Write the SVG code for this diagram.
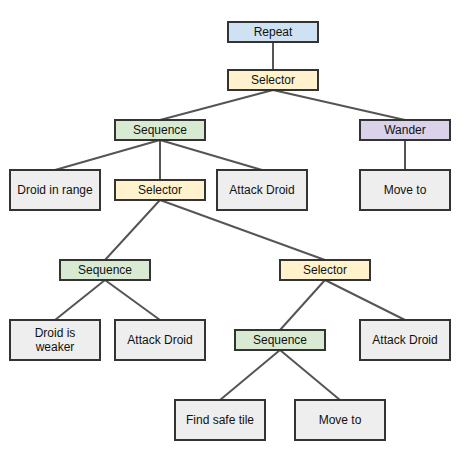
<svg xmlns="http://www.w3.org/2000/svg" width="470" height="460" viewBox="0 0 470 460">
<style>
.n rect{stroke:#333;stroke-width:2}
.n text{font-family:"Liberation Sans",Arial,sans-serif;font-size:12px;fill:#111;text-anchor:middle}
.blue{fill:#cfe2f3}.yel{fill:#fff2cc}.grn{fill:#d9ead3}.pur{fill:#d9d2e9}.gry{fill:#eeeeee}
#edges line{stroke:#555;stroke-width:2}
</style>
<rect width="470" height="460" fill="#fff"/>
<g id="edges">
<line x1="273" y1="42" x2="273" y2="70"/>
<line x1="273" y1="90" x2="160" y2="120"/>
<line x1="273" y1="90" x2="405" y2="120"/>
<line x1="160" y1="140" x2="55" y2="170"/>
<line x1="160" y1="140" x2="160" y2="180"/>
<line x1="160" y1="140" x2="262" y2="170"/>
<line x1="405" y1="140" x2="405" y2="170"/>
<line x1="160" y1="200" x2="105" y2="260"/>
<line x1="160" y1="200" x2="325" y2="260"/>
<line x1="105" y1="280" x2="55" y2="320"/>
<line x1="105" y1="280" x2="160" y2="320"/>
<line x1="325" y1="280" x2="280" y2="330"/>
<line x1="325" y1="280" x2="405" y2="320"/>
<line x1="280" y1="350" x2="220" y2="400"/>
<line x1="280" y1="350" x2="340" y2="400"/>
</g>
<g id="repeat" class="n"><rect class="blue" x="228" y="22" width="90" height="20"/><text x="273" y="36">Repeat</text></g>
<g id="selector1" class="n"><rect class="yel" x="228" y="70" width="90" height="20"/><text x="273" y="84">Selector</text></g>
<g id="sequence1" class="n"><rect class="grn" x="115" y="120" width="90" height="20"/><text x="160" y="134">Sequence</text></g>
<g id="wander" class="n"><rect class="pur" x="360" y="120" width="90" height="20"/><text x="405" y="134">Wander</text></g>
<g id="droidInRange" class="n"><rect class="gry" x="10" y="170" width="90" height="40"/><text x="55" y="194">Droid in range</text></g>
<g id="selector2" class="n"><rect class="yel" x="115" y="180" width="90" height="20"/><text x="160" y="194">Selector</text></g>
<g id="attack1" class="n"><rect class="gry" x="217" y="170" width="90" height="40"/><text x="262" y="194">Attack Droid</text></g>
<g id="moveTo1" class="n"><rect class="gry" x="360" y="170" width="90" height="40"/><text x="405" y="194">Move to</text></g>
<g id="sequence2" class="n"><rect class="grn" x="60" y="260" width="90" height="20"/><text x="105" y="274">Sequence</text></g>
<g id="selector3" class="n"><rect class="yel" x="280" y="260" width="90" height="20"/><text x="325" y="274">Selector</text></g>
<g id="droidWeaker" class="n"><rect class="gry" x="10" y="320" width="90" height="40"/><text x="55" y="337">Droid is</text><text x="55" y="351">weaker</text></g>
<g id="attack2" class="n"><rect class="gry" x="115" y="320" width="90" height="40"/><text x="160" y="344">Attack Droid</text></g>
<g id="sequence3" class="n"><rect class="grn" x="235" y="330" width="90" height="20"/><text x="280" y="344">Sequence</text></g>
<g id="attack3" class="n"><rect class="gry" x="360" y="320" width="90" height="40"/><text x="405" y="344">Attack Droid</text></g>
<g id="findSafe" class="n"><rect class="gry" x="175" y="400" width="90" height="40"/><text x="220" y="424">Find safe tile</text></g>
<g id="moveTo2" class="n"><rect class="gry" x="295" y="400" width="90" height="40"/><text x="340" y="424">Move to</text></g>
</svg>
